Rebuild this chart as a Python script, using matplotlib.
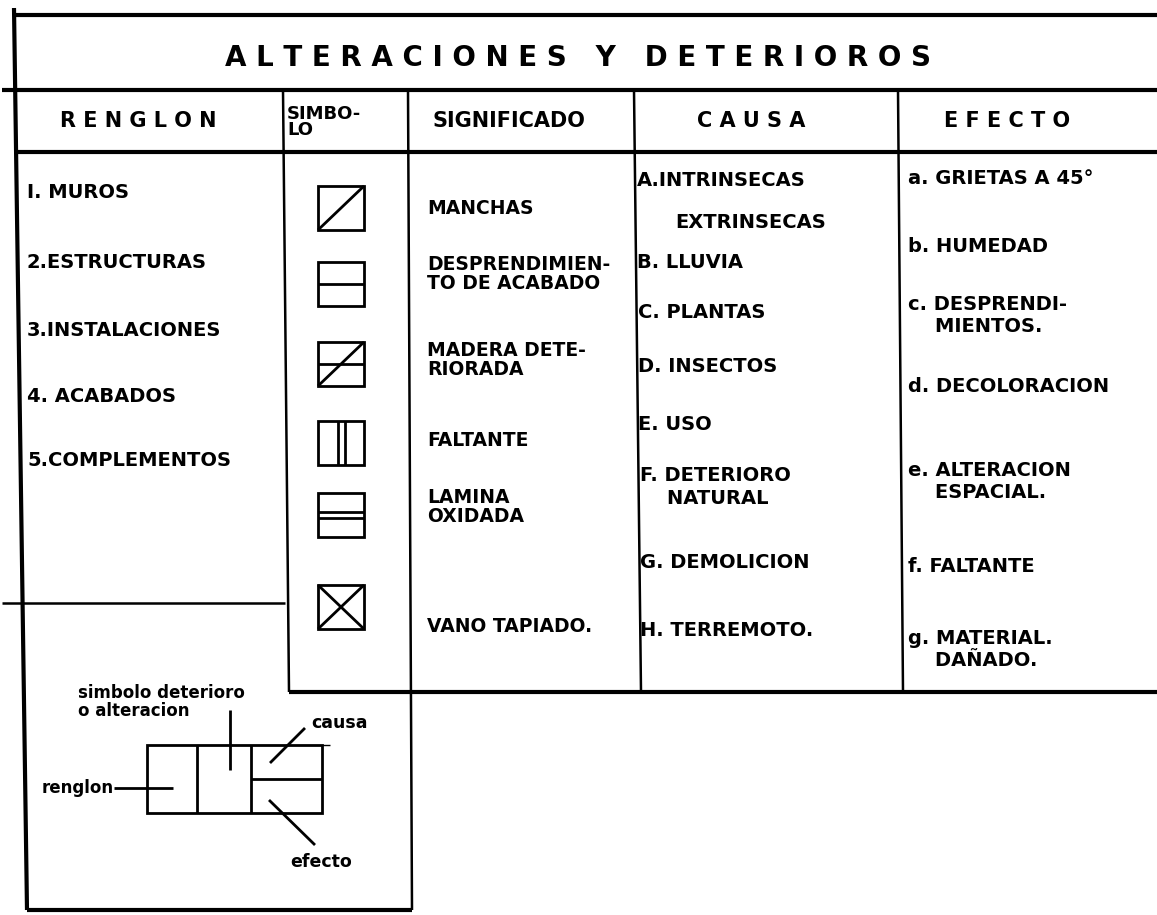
import matplotlib
matplotlib.use('Agg')
import matplotlib.pyplot as plt
from matplotlib.patches import Rectangle

plt.rc('font', family='DejaVu Sans', weight='bold')

#===================
# Contenido
#===================
titulo      = 'A L T E R A C I O N E S   Y   D E T E R I O R O S'
encabezados = ['R E N G L O N', 'SIMBO-\nLO', 'SIGNIFICADO', 'C A U S A', 'E F E C T O']
renglon     = ['I. MUROS', '2.ESTRUCTURAS', '3.INSTALACIONES', '4. ACABADOS', '5.COMPLEMENTOS']
simbolos    = ['diagonal', 'mitad', 'mitad_diagonal', 'doble_vertical', 'doble_horizontal', 'cruz']
significado = ['MANCHAS', 'DESPRENDIMIEN-\nTO DE ACABADO', 'MADERA DETE-\nRIORADA',
               'FALTANTE', 'LAMINA\nOXIDADA', 'VANO TAPIADO.']
causa       = ['A.INTRINSECAS', 'EXTRINSECAS', 'B. LLUVIA', 'C. PLANTAS', 'D. INSECTOS',
               'E. USO', 'F. DETERIORO\n    NATURAL', 'G. DEMOLICION', 'H. TERREMOTO.']
efecto      = ['a. GRIETAS A 45°', 'b. HUMEDAD', 'c. DESPRENDI-\n    MIENTOS.', 'd. DECOLORACION',
               'e. ALTERACION\n    ESPACIAL.', 'f. FALTANTE', 'g. MATERIAL.\n    DAÑADO.']
etiquetas   = ['simbolo deterioro\no alteracion', 'causa', 'renglon', 'efecto']

#===================
# Posiciones (pixeles)
#===================
W, H = 1157, 915
y_top, y_tit, y_head, y_bot, y_box = 15, 90, 152, 692, 910
head_x   = [138, 287, 509, 751, 1007]
renglon_y = [192, 262, 330, 397, 460]
simb_y    = [208, 284, 364, 443, 515, 607]
signif_y  = [208, 274, 360, 440, 507, 626]
causa_x   = [637, 675, 637, 638, 638, 638, 640, 640, 640]
causa_y   = [180, 222, 262, 313, 366, 424, 487, 563, 630]
efecto_y  = [178, 247, 316, 387, 481, 567, 650]

lw_big, lw_mid, lw_small = 3.0, 1.8, 2.0

fig = plt.figure(figsize=(W/100., H/100.), dpi=100)
ax = fig.add_axes([0, 0, 1, 1])
ax.set_xlim(0, W)
ax.set_ylim(H, 0)
ax.axis('off')

def line(x0, y0, x1, y1, lw=lw_mid):
    ax.plot([x0, x1], [y0, y1], color='k', lw=lw, solid_capstyle='butt')

#===================
# Marco
#===================
line(14, 8, 27, y_box, lw_big)
line(14, y_top, W, y_top, lw_big)
line(2, y_tit, W, y_tit, lw_big)
line(14, y_head, W, y_head, lw_big)
line(283, y_tit, 289, y_bot)
line(408, y_tit, 412, y_box)
line(634, y_tit, 641, y_bot)
line(898, y_tit, 903, y_bot)
line(289, y_bot, W, y_bot, lw_big)
line(2, 603, 285, 603)
line(27, y_box, 412, y_box, lw_big)

ax.text(578, 58, titulo, ha='center', va='center', fontsize=20)

ax.text(head_x[0], 121, encabezados[0], ha='center', va='center', fontsize=15)
ax.text(head_x[1], 122, encabezados[1], ha='left', va='center', fontsize=13, linespacing=0.85)
for i in [2, 3, 4]:
    ax.text(head_x[i], 121, encabezados[i], ha='center', va='center', fontsize=15)

#===================
# Columnas
#===================
for s, y in zip(renglon, renglon_y):
    ax.text(27, y, s, ha='left', va='center', fontsize=14)

for s, y in zip(significado, signif_y):
    ax.text(427, y, s, ha='left', va='center', fontsize=13.5, linespacing=0.95)

for s, x, y in zip(causa, causa_x, causa_y):
    ax.text(x, y, s, ha='left', va='center', fontsize=14, linespacing=1.25)

for s, y in zip(efecto, efecto_y):
    ax.text(908, y, s, ha='left', va='center', fontsize=14, linespacing=1.2)

# simbolos
sw, sh = 46, 44
for kind, yc in zip(simbolos, simb_y):
    x0, y0 = 341 - sw/2., yc - sh/2.
    x1, y1 = x0 + sw, y0 + sh
    ax.add_patch(Rectangle((x0, y0), sw, sh, fill=False, ec='k', lw=lw_small))
    if kind in ('diagonal', 'mitad_diagonal', 'cruz'):
        line(x0, y1, x1, y0, lw_small)
    if kind == 'cruz':
        line(x0, y0, x1, y1, lw_small)
    if kind in ('mitad', 'mitad_diagonal'):
        line(x0, yc, x1, yc, lw_small)
    if kind == 'doble_vertical':
        line(x0 + 20, y0, x0 + 20, y1, lw_small)
        line(x0 + 27, y0, x0 + 27, y1, lw_small)
    if kind == 'doble_horizontal':
        line(x0, yc - 3, x1, yc - 3, lw_small)
        line(x0, yc + 3, x1, yc + 3, lw_small)

#===================
# Diagrama de lectura
#===================
bx0, bx1, by0, by1 = 147, 322, 745, 813
ax.add_patch(Rectangle((bx0, by0), bx1 - bx0, by1 - by0, fill=False, ec='k', lw=lw_small))
line(197, by0, 197, by1, lw_small)
line(251, by0, 251, by1, lw_small)
line(251, 779, bx1, 779, lw_small)
line(bx1, by0, 330, by0, 1.0)

line(230, 710, 230, 770, lw_small)
line(305, 728, 270, 763, lw_small)
line(114, 788, 173, 788, lw_small)
line(269, 800, 315, 845, lw_small)

ax.text(78, 702, etiquetas[0], ha='left', va='center', fontsize=12, linespacing=0.95)
ax.text(311, 723, etiquetas[1], ha='left', va='center', fontsize=12.5)
ax.text(114, 788, etiquetas[2], ha='right', va='center', fontsize=12)
ax.text(290, 862, etiquetas[3], ha='left', va='center', fontsize=12.5)

plt.savefig('out.png', dpi=100)
